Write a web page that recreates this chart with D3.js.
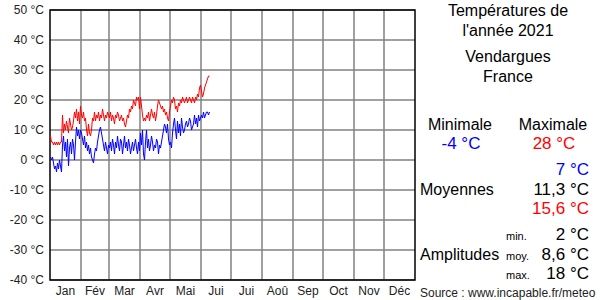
<!DOCTYPE html>
<html>
<head>
<meta charset="utf-8">
<script src="https://cdn.jsdelivr.net/npm/d3@7"></script>
<style>
body { margin: 0; background: white; }
text { font-family: "Liberation Sans", Arial, sans-serif; }
</style>
</head>
<body>
<script>
// data, one value per day from Jan 1
var tmax = [8,6,6,5,6,5,6,5,6,5,6,6,
	15,9,12,10,13,11,9,14,12,10,11,13,16,14,17,13,16,12,18,
	15,14,16,13,14,10,8,12,9,8,10,14,13,16,13,15,14,16,13,15,14,17,15,13,15,14,16,15,
	14,16,13,15,14,12,15,14,16,15,13,14,15,13,14,12,11,13,15,14,17,16,18,17,20,19,18,21,20,21,17,
	21,18,15,13,14,13,15,14,16,13,15,17,15,14,16,13,15,18,20,19,18,17,18,16,17,15,16,14,13,16,
	18,20,19,21,20,17,18,16,19,18,20,19,21,20,19,20,21,19,20,21,20,19,21,20,19,21,20,22,21,24,25,
	23,21,22,24,25,26,27,28,28];
var tmin = [1,0,1,-1,-3,-2,-4,-1,-3,0,-2,-4,
	5,8,3,6,1,7,-2,4,6,2,7,5,0,6,11,8,10,7,10,
	9,7,5,8,4,6,3,5,2,4,1,0,-1,2,4,3,6,8,10,11,9,7,5,3,6,4,2,5,
	4,6,3,7,5,2,6,4,8,5,3,7,6,2,5,8,4,6,3,7,5,2,4,6,3,5,7,4,2,6,3,
	9,5,10,2,0,6,10,4,7,3,5,8,6,3,5,4,7,6,2,5,4,6,8,10,12,11,9,12,7,5,
	6,4,9,12,14,10,7,13,9,12,8,14,11,9,10,12,13,11,12,14,13,10,11,12,15,12,14,11,15,13,14,
	15,14,16,14,15,16,16,15,16];
var months = ["Jan","Fév","Mar","Avr","Mai","Jui","Jui","Aoû","Sep","Oct","Nov","Déc"];
var monthDays = [31,28,31,30,31,30,31,31,30,31,30,31];
var yTicks = [50,40,30,20,10,0,-10,-20,-30,-40];

var svgContainer = d3.select("body").append("svg")
	.attr("width", 600)
	.attr("height", 300);

var x = d3.scaleLinear().domain([0, 365]).range([50, 415]);
var y = d3.scaleLinear().domain([-40, 50]).range([280, 10]);

// month boundaries
var bounds = [0];
for (var i = 0; i < monthDays.length; i++){
	bounds.push(bounds[i] + monthDays[i]);
}

// grid
svgContainer.selectAll(".hgrid")
	.data(yTicks)
	.enter().append("line")
	.attr("class", "hgrid")
	.attr("x1", x(0)).attr("x2", x(365))
	.attr("y1", function(d){ return y(d); })
	.attr("y2", function(d){ return y(d); })
	.style("stroke", "#808080")
	.style("stroke-width", 1.5);

svgContainer.selectAll(".vgrid")
	.data(bounds.slice(1, 12))
	.enter().append("line")
	.attr("class", "vgrid")
	.attr("x1", function(d){ return x(d); })
	.attr("x2", function(d){ return x(d); })
	.attr("y1", y(50)).attr("y2", y(-40))
	.style("stroke", "#808080")
	.style("stroke-width", 1.5);

// frame
svgContainer.append("rect")
	.attr("x", x(0))
	.attr("y", y(50))
	.attr("width", x(365) - x(0))
	.attr("height", y(-40) - y(50))
	.attr("fill", "none")
	.style("stroke", "black")
	.style("stroke-width", 1.5);

// y labels
svgContainer.selectAll(".ylab")
	.data(yTicks)
	.enter().append("text")
	.attr("class", "ylab")
	.attr("x", 44)
	.attr("y", function(d){ return y(d); })
	.attr("dy", ".35em")
	.style("font-size", "12px")
	.style("text-anchor", "end")
	.attr("fill", "#222")
	.text(function(d){ return d + " °C"; });

// month labels
svgContainer.selectAll(".mlab")
	.data(months)
	.enter().append("text")
	.attr("class", "mlab")
	.attr("x", function(d, i){ return x((bounds[i] + bounds[i+1]) / 2); })
	.attr("y", 295)
	.style("font-size", "12px")
	.style("text-anchor", "middle")
	.attr("fill", "#222")
	.text(function(d){ return d; });

// series
var line = d3.line()
	.x(function(d, i){ return x(i + 0.5); })
	.y(function(d){ return y(d); });

svgContainer.append("path")
	.datum(tmax)
	.attr("d", line)
	.attr("fill", "none")
	.style("stroke", "red")
	.style("stroke-width", 1);

svgContainer.append("path")
	.datum(tmin)
	.attr("d", line)
	.attr("fill", "none")
	.style("stroke", "blue")
	.style("stroke-width", 1);

// right panel
function label(tx, ty, str, size, anchor, color){
	svgContainer.append("text")
		.attr("x", tx)
		.attr("y", ty)
		.style("font-size", size + "px")
		.style("text-anchor", anchor)
		.attr("fill", color || "black")
		.text(str);
}

label(508, 16, "Températures de", 16, "middle");
label(508, 36, "l'année 2021", 16, "middle");
label(508, 62, "Vendargues", 16, "middle");
label(508, 82, "France", 16, "middle");

label(460, 130, "Minimale", 16, "middle");
label(553, 130, "Maximale", 16, "middle");
label(461, 149, "-4 °C", 17, "middle", "blue");
label(554, 149, "28 °C", 17, "middle", "red");

label(589, 175, "7 °C", 17, "end", "blue");
label(420, 195, "Moyennes", 16, "start");
label(589, 195, "11,3 °C", 17, "end");
label(589, 214, "15,6 °C", 17, "end", "red");

label(506, 240, "min.", 11, "start");
label(589, 240, "2 °C", 17, "end");
label(420, 260, "Amplitudes", 16, "start");
label(506, 260, "moy.", 11, "start");
label(589, 260, "8,6 °C", 17, "end");
label(506, 279, "max.", 11, "start");
label(589, 279, "18 °C", 17, "end");

label(420, 297, "Source : www.incapable.fr/meteo", 12, "start", "#222");
</script>
</body>
</html>
